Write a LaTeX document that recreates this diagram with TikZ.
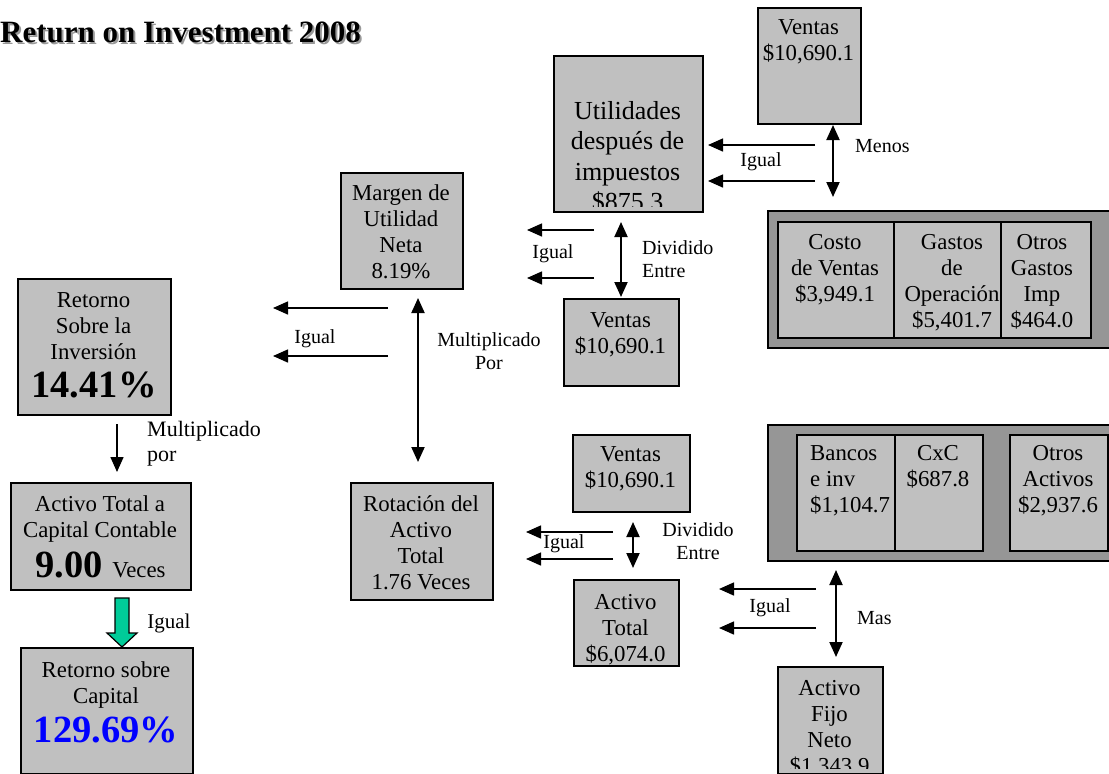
\documentclass[tikz,border=0pt]{standalone}
\usepackage{fontspec}
\setmainfont{Liberation Serif}
\usetikzlibrary{arrows.meta}

\definecolor{grisCaja}{HTML}{C0C0C0}
\definecolor{grisFondo}{HTML}{969696}
\definecolor{verdeFlecha}{HTML}{00CC99}
\definecolor{azulValor}{HTML}{0000FF}

\tikzset{
   caja/.style={draw, fill=grisCaja, line width=1.6pt, anchor=north west, inner sep=0pt},
   fondo/.style={draw, fill=grisFondo, line width=1.6pt, anchor=north west, inner sep=0pt},
   tam/.style 2 args={minimum width=#1, minimum height=#2},
   texto/.style={anchor=north, align=center, inner sep=0pt, font=\fontsize{22.8}{26}\selectfont},
   etiqueta/.style={inner sep=0pt, font=\fontsize{20}{23}\selectfont},
   cifra/.style={inner sep=0pt, font=\fontsize{38.5}{41}\selectfont\bfseries},
   titulo/.style={anchor=base west, inner sep=0pt, font=\fontsize{31}{34}\selectfont\bfseries},
   flecha/.style={line width=1.5pt, -{Triangle[length=15pt,width=13pt]}},
   dobleflecha/.style={line width=2pt, {Triangle[length=15pt,width=13pt]}-{Triangle[length=15pt,width=13pt]}},
}

\begin{document}
\begin{tikzpicture}[x=1pt,y=-1pt]
   \useasboundingbox (0,0) rectangle (1109,774) ;

   % titulo
   \node[titulo, text=black!40] (titulo-s) at (2,44) {Return on Investment 2008} ; %
   \node[titulo] (titulo) at (0,42) {Return on Investment 2008} ; %

   % cajas de fondo
   \node[fondo, tam={350}{137}] (costos) at (767,210) {} ; %
   \node[fondo, tam={350}{136}] (activos) at (767,424) {} ; %

   % cajas
   \node[caja, tam={103}{116}] (ventasA) at (757,7) {} ; %
   \node[caja, tam={149}{156}] (util) at (553,55) {} ; %
   \node[caja, tam={116}{116}] (costo) at (777,221) {} ; %
   \node[caja, tam={107}{116}] (gastos) at (893,221) {} ; %
   \node[caja, tam={90}{116}] (otrosg) at (1000,221) {} ; %
   \node[caja, tam={122}{116}] (margen) at (340,172) {} ; %
   \node[caja, tam={115}{87}] (ventasB) at (563,298) {} ; %
   \node[caja, tam={153}{136}] (roi) at (17,278) {} ; %
   \node[caja, tam={180}{107}] (actcap) at (10,482) {} ; %
   \node[caja, tam={172}{126}] (rsc) at (20,647) {} ; %
   \node[caja, tam={142}{117}] (rot) at (350,482) {} ; %
   \node[caja, tam={117}{77}] (ventasC) at (572,434) {} ; %
   \node[caja, tam={105}{86}] (acttot) at (573,579) {} ; %
   \node[caja, tam={98}{116}] (bancos) at (796,434) {} ; %
   \node[caja, tam={88}{116}] (cxc) at (894,434) {} ; %
   \node[caja, tam={98}{116}] (otrosa) at (1009,434) {} ; %
   \node[caja, tam={105}{107}] (fijo) at (777,666) {} ; %

   % textos de las cajas
   \node[texto] (ventasA-t) at (808.5,19) {Ventas\\\$10,690.1} ; %
   \begin{scope}
      \clip (553,55) rectangle (702,206) ;
      \node[texto, font=\fontsize{26}{30.5}\selectfont] (util-t) at (627.5,101) {Utilidades\\después de\\impuestos\\\$875.3} ; %
   \end{scope}
   \node[texto] (costo-t) at (835,234) {Costo\\de Ventas\\\$3,949.1} ; %
   \node[texto] (gastos-t) at (952,234) {Gastos\\de\\Operación\\\$5,401.7} ; %
   \node[texto] (otrosg-t) at (1042,234) {Otros\\Gastos\\Imp\\\$464.0} ; %
   \node[texto] (margen-t) at (401,184) {Margen de\\Utilidad\\Neta\\8.19\%} ; %
   \node[texto] (ventasB-t) at (620.5,312) {Ventas\\\$10,690.1} ; %
   \node[texto] (roi-t) at (93.5,292) {Retorno\\Sobre la\\Inversión} ; %
   \node[cifra] (roi-n) at (94,385) {14.41\%} ; %
   \node[texto] (actcap-t) at (100,495) {Activo Total a\\Capital Contable} ; %
   \node[cifra] (actcap-n) at (100.5,565) {9.00~{\fontsize{22.8}{26}\selectfont\mdseries Veces}} ; %
   \node[texto] (rsc-t) at (106,661) {Retorno sobre\\Capital} ; %
   \node[cifra, text=azulValor] (rsc-n) at (106,730) {129.69\%} ; %
   \node[texto] (rot-t) at (421,495) {Rotación del\\Activo\\Total\\1.76 Veces} ; %
   \node[texto] (ventasC-t) at (630.5,446) {Ventas\\\$10,690.1} ; %
   \node[texto] (acttot-t) at (625.5,594) {Activo\\Total\\\$6,074.0} ; %
   \node[texto, anchor=north west, align=left] (bancos-t) at (810,445) {Bancos\\e inv\\\$1,104.7} ; %
   \node[texto] (cxc-t) at (938,445) {CxC\\\$687.8} ; %
   \node[texto] (otrosa-t) at (1058,445) {Otros\\Activos\\\$2,937.6} ; %
   \begin{scope}
      \clip (777,666) rectangle (882,768) ;
      \node[texto] (fijo-t) at (829.5,680) {Activo\\Fijo\\Neto\\\$1,343.9} ; %
   \end{scope}

   % etiquetas
   \node[etiqueta] (igual1) at (761,162) {Igual} ; %
   \node[etiqueta, anchor=west] (menos) at (855,146) {Menos} ; %
   \node[etiqueta] (igual2) at (553,254) {Igual} ; %
   \node[etiqueta, anchor=north west, align=left] (divide1) at (642,240) {Dividido\\Entre} ; %
   \node[etiqueta] (igual3) at (315,339) {Igual} ; %
   \node[etiqueta, anchor=north, align=center] (multi1) at (489,332) {Multiplicado\\Por} ; %
   \node[etiqueta, anchor=north west, align=left, font=\fontsize{22}{25}\selectfont] (multi2) at (147,421) {Multiplicado\\por} ; %
   \node[etiqueta, font=\fontsize{21}{24}\selectfont] (igual4) at (169,623) {Igual} ; %
   \node[etiqueta] (igual5) at (564,544) {Igual} ; %
   \node[etiqueta, anchor=north, align=center] (divide2) at (698,522) {Dividido\\Entre} ; %
   \node[etiqueta] (igual6) at (770,608) {Igual} ; %
   \node[etiqueta, anchor=west] (mas) at (857,618) {Mas} ; %

   % puntos de las flechas
   \coordinate (a1i) at (815,145) ; \coordinate (a1f) at (708,145) ;
   \coordinate (a2i) at (815,181) ; \coordinate (a2f) at (708,181) ;
   \coordinate (d1a) at (833,125) ; \coordinate (d1b) at (833,197) ;
   \coordinate (a3i) at (594,230) ; \coordinate (a3f) at (527,230) ;
   \coordinate (a4i) at (594,278) ; \coordinate (a4f) at (527,278) ;
   \coordinate (d2a) at (621,222) ; \coordinate (d2b) at (621,297) ;
   \coordinate (a5i) at (388,308) ; \coordinate (a5f) at (273,308) ;
   \coordinate (a6i) at (388,356) ; \coordinate (a6f) at (273,356) ;
   \coordinate (d3a) at (418,298) ; \coordinate (d3b) at (418,462) ;
   \coordinate (a7i) at (117,424) ; \coordinate (a7f) at (117,472) ;
   \coordinate (a8i) at (613,532) ; \coordinate (a8f) at (526,532) ;
   \coordinate (a9i) at (613,559) ; \coordinate (a9f) at (526,559) ;
   \coordinate (d4a) at (633,522) ; \coordinate (d4b) at (633,568) ;
   \coordinate (a10i) at (816,589) ; \coordinate (a10f) at (719,589) ;
   \coordinate (a11i) at (816,628) ; \coordinate (a11f) at (719,628) ;
   \coordinate (d5a) at (836,570) ; \coordinate (d5b) at (836,657) ;

   % flechas
   \draw[flecha] (a1i) -- (a1f) ;
   \draw[flecha] (a2i) -- (a2f) ;
   \draw[dobleflecha] (d1a) -- (d1b) ;
   \draw[flecha] (a3i) -- (a3f) ;
   \draw[flecha] (a4i) -- (a4f) ;
   \draw[dobleflecha] (d2a) -- (d2b) ;
   \draw[flecha] (a5i) -- (a5f) ;
   \draw[flecha] (a6i) -- (a6f) ;
   \draw[dobleflecha] (d3a) -- (d3b) ;
   \draw[flecha] (a7i) -- (a7f) ;
   \draw[flecha] (a8i) -- (a8f) ;
   \draw[flecha] (a9i) -- (a9f) ;
   \draw[dobleflecha] (d4a) -- (d4b) ;
   \draw[flecha] (a10i) -- (a10f) ;
   \draw[flecha] (a11i) -- (a11f) ;
   \draw[dobleflecha] (d5a) -- (d5b) ;

   % flecha verde
   \draw[line width=1.2pt, fill=verdeFlecha] (115,598) -- (129,598) -- (129,633) -- (137,633)
      -- (122,647) -- (107,633) -- (115,633) -- cycle ;

\end{tikzpicture}
\end{document}
